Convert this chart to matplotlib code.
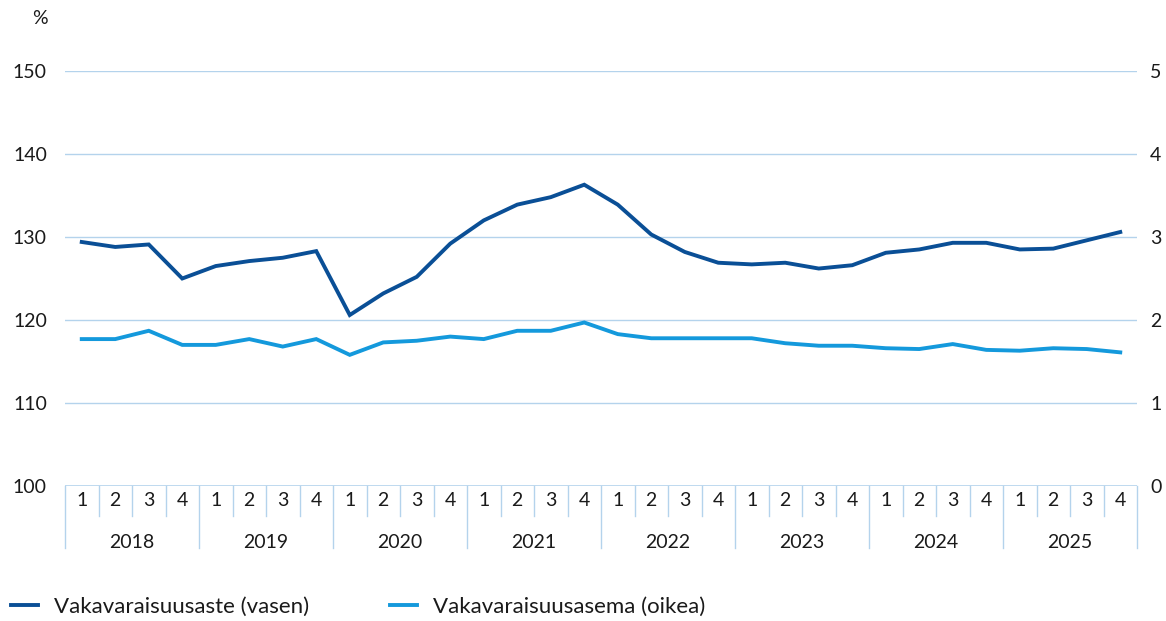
import matplotlib
matplotlib.use("Agg")
import matplotlib.pyplot as plt
import matplotlib.transforms as mtransforms

years = ["2018", "2019", "2020", "2021", "2022", "2023", "2024", "2025"]
quarters = ["1", "2", "3", "4"]

vakavaraisuusaste = [129.4, 128.8, 129.1, 125.0, 126.5, 127.1, 127.5, 128.3,
                     120.6, 123.2, 125.2, 129.2, 132.0, 133.9, 134.8, 136.3,
                     133.9, 130.3, 128.2, 126.9, 126.7, 126.9, 126.2, 126.6,
                     128.1, 128.5, 129.3, 129.3, 128.5, 128.6, 129.6, 130.6]
vakavaraisuusasema = [1.77, 1.77, 1.87, 1.70, 1.70, 1.77, 1.68, 1.77,
                      1.58, 1.73, 1.75, 1.80, 1.77, 1.87, 1.87, 1.97,
                      1.83, 1.78, 1.78, 1.78, 1.78, 1.72, 1.69, 1.69,
                      1.66, 1.65, 1.71, 1.64, 1.63, 1.66, 1.65, 1.61]

left_ticks = [100, 110, 120, 130, 140, 150]
right_ticks = [0, 1, 2, 3, 4, 5]
label_left = "Vakavaraisuusaste (vasen)"
label_right = "Vakavaraisuusasema (oikea)"

DARK = "#0a4f96"
LIGHT = "#1499dc"
GRID = "#b4d3ec"
TEXT = "#1a1a1a"
FS = 14

plt.rcParams["font.family"] = ["Lato", "DejaVu Sans"]

W, H = 1166, 621
fig = plt.figure(figsize=(W / 100, H / 100), dpi=100)
x0, x1, ytop, ybot = 65, 1137, 71, 486
ax = fig.add_axes([x0 / W, (H - ybot) / H, (x1 - x0) / W, (ybot - ytop) / H])
ax2 = ax.twinx()

n = len(vakavaraisuusaste)
xs = list(range(n))
ax.set_xlim(-0.5, n - 0.5)
ax.set_ylim(100, 150)
ax2.set_ylim(0, 5)

for a in (ax, ax2):
    for s in a.spines.values():
        s.set_visible(False)
    a.tick_params(length=0, labelsize=FS, colors=TEXT)

ax.set_yticks(left_ticks)
ax.set_yticklabels([str(t) for t in left_ticks])
ax.tick_params(axis="y", pad=13)
ax2.set_yticks(right_ticks)
ax2.set_yticklabels([str(t) for t in right_ticks])
ax2.tick_params(axis="y", pad=9.5)
ax.set_xticks([])

for t in left_ticks[1:]:
    ax.axhline(t, color=GRID, lw=1.0, zorder=0)
ax.axhline(100, color=GRID, lw=1.2, zorder=0)

l1, = ax.plot(xs, vakavaraisuusaste, color=DARK, lw=2.8, zorder=3,
              solid_joinstyle="miter")
l2, = ax2.plot(xs, vakavaraisuusasema, color=LIGHT, lw=2.8, zorder=3,
               solid_joinstyle="miter")

# category axis separators & labels
trans = mtransforms.blended_transform_factory(ax.transData, ax.transAxes)
hq = 30 / (ybot - ytop)
hy = 62 / (ybot - ytop)
for i in range(n + 1):
    is_year = (i % 4 == 0)
    ax.plot([i - 0.5, i - 0.5], [0, -(hy if is_year else hq)], color=GRID,
            lw=1.0, transform=trans, clip_on=False)
for i in range(n):
    ax.text(i, -15 / (ybot - ytop), quarters[i % 4], transform=trans,
            ha="center", va="center", fontsize=FS, color=TEXT)
for j, y in enumerate(years):
    ax.text(4 * j + 1.5, -57 / (ybot - ytop), y, transform=trans,
            ha="center", va="center", fontsize=FS, color=TEXT)

fig.text(40 / W, 1 - 18 / H, "%", ha="center", va="center", fontsize=FS,
         color=TEXT)

# legend
for line, lab, xpos in ((l1, label_left, 11), (l2, label_right, 390)):
    fig.legend([line], [lab], loc="center left",
               bbox_to_anchor=(xpos / W, 1 - 607 / H), frameon=False,
               fontsize=16, handlelength=1.2, handletextpad=0.75,
               labelcolor=TEXT, borderaxespad=0, borderpad=0)

fig.savefig("out.png", dpi=100)
